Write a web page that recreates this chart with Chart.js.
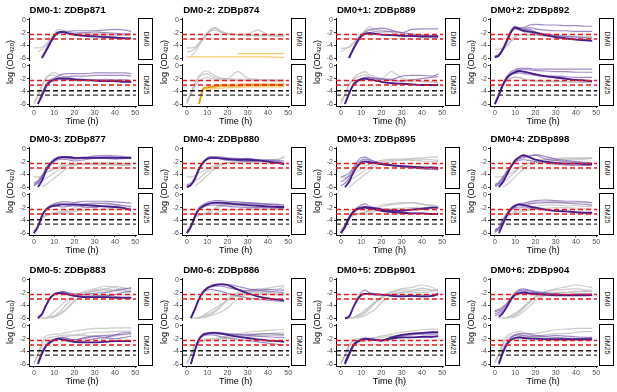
<!DOCTYPE html>
<html><head><meta charset="utf-8">
<script src="https://cdn.jsdelivr.net/npm/chart.js@4"></script>
<style>
body{margin:0;background:#fff;}
#root{position:relative;width:617px;height:392px;overflow:hidden;font-family:"Liberation Sans",Arial,sans-serif;background:#fff;}
.t{position:absolute;font-weight:bold;font-size:9.6px;color:#000;white-space:nowrap;line-height:1;}
.strip{position:absolute;border:1.6px solid #000;box-sizing:border-box;background:#fff;}
.strip span{position:absolute;left:50%;top:50%;transform:translate(-50%,-50%) rotate(90deg);font-size:7px;color:#1a1a1a;white-space:nowrap;line-height:1;}
.yl{position:absolute;font-size:9px;white-space:nowrap;line-height:1;transform:translate(-50%,-50%) rotate(-90deg);}
.yl sub{font-size:6px;vertical-align:-1px;}
.xl{position:absolute;font-size:9px;white-space:nowrap;line-height:1;transform:translate(-50%,-50%);}
canvas{position:absolute;}
</style></head><body><div id="root"></div>
<script>
// time points (h)
const T = [0,2,4,6,8,10,12,14,17,20,25,30,35,40,45,48];
const xTicks = [0,10,20,30,40,50];
const yTicks = [-6,-4,-2,0];
const redLevels = [-2.3,-3.0];
const blackLevels = [-3.9,-4.6];
const titles = ['DM0-1: ZDBp871','DM0-2: ZDBp874','DM0+1: ZDBp889','DM0+2: ZDBp892',
                'DM0-3: ZDBp877','DM0-4: ZDBp880','DM0+3: ZDBp895','DM0+4: ZDBp898',
                'DM0-5: ZDBp883','DM0-6: ZDBp886','DM0+5: ZDBp901','DM0+6: ZDBp904'];
const strips = ['DM0','DM25'];

// ---- ZDBp871 ----
const gray_871_DM0 = [[-4.4,-4.4,-4.3,-3.8,-3.0,-2.2,-1.5,-1.6,-2.0,-2.1,-2.1,-2.2,-2.2,-2.3,-2.3,-2.4],
 [null,-5.0,-4.6,-4.0,-3.2,-2.4,-1.8,-1.9,-2.1,-2.2,-2.3,-2.3,-2.4,-2.4,-2.4,-2.5]];
const light_871_DM0 = [[null,null,-6.0,-4.8,-3.6,-2.5,-2.0,-1.8,-1.8,-1.7,-1.7,-1.7,-1.6,-1.5,-1.6,-1.8],
 [null,null,-5.8,-4.6,-3.4,-2.4,-1.9,-1.9,-2.2,-2.4,-2.5,-2.6,-2.6,-2.7,-2.8,-2.9],
 [null,null,-5.9,-4.7,-3.5,-2.5,-2.0,-2.0,-2.1,-2.1,-2.0,-1.9,-2.0,-2.1,-2.2,-2.2]];
const dark_871_DM0 = [[null,null,-6.0,-4.9,-3.7,-2.6,-2.0,-1.9,-2.1,-2.3,-2.5,-2.6,-2.7,-2.8,-2.9,-2.9]];
const gray_871_DM25 = [[-6.0,-4.8,-3.2,-2.0,-1.3,-1.0,-1.3,-1.6,-1.8,-2.0,-2.1,-2.2,-2.3,-2.3,-2.4,-2.5],
 [-5.8,-4.5,-3.0,-1.8,-1.5,-1.4,-1.8,-2.0,-2.1,-2.2,-2.3,-2.3,-2.4,-2.4,-2.5,-2.5]];
const light_871_DM25 = [[null,-6.0,-4.5,-3.0,-2.2,-1.9,-1.6,-1.3,-1.2,-1.2,-1.2,-1.1,-1.1,-1.1,-1.1,-1.2],
 [null,-6.0,-4.6,-3.1,-2.4,-2.1,-1.9,-1.8,-1.7,-1.6,-1.6,-1.5,-1.5,-1.5,-1.5,-1.6],
 [null,-5.8,-4.3,-2.9,-2.3,-2.1,-2.0,-2.1,-2.2,-2.3,-2.3,-2.2,-2.1,-2.2,-2.2,-2.3]];
const dark_871_DM25 = [[null,-6.0,-4.7,-3.3,-2.5,-2.2,-2.0,-2.0,-2.0,-2.1,-2.2,-2.3,-2.4,-2.4,-2.5,-2.5]];

// ---- ZDBp874 (orange) ----
const gray_874_DM0 = [[-4.4,-4.4,-4.3,-3.6,-2.8,-2.0,-1.4,-1.2,-1.8,-2.1,-2.3,-2.4,-2.5,-2.5,-2.6,-2.6],
 [-5.0,-4.9,-4.5,-3.8,-3.0,-2.2,-1.6,-1.3,-1.9,-2.2,-2.3,-2.2,-1.6,-2.3,-2.4,-2.5],
 [null,-5.8,-5.0,-4.0,-3.1,-2.3,-1.7,-1.6,-2.0,-2.2,-2.3,-2.5,-2.5,-2.4,-2.5,-2.5]];
const light_874_DM0 = [[-5.8,-5.8,-5.8,-5.8,-5.8,-5.8,-5.8,-5.8,-5.8,-5.8,-5.8,-5.8,-5.8,-5.8,-5.9,-5.9],
 [null,null,null,null,null,null,null,null,null,null,-5.3,-5.3,-5.3,-5.3,-5.3,-5.3]];
const dark_874_DM0 = [];
const gray_874_DM25 = [[-6.0,-4.5,-2.8,-1.6,-1.0,-0.8,-1.2,-1.6,-1.9,-2.0,-2.1,-2.1,-2.2,-2.2,-2.3,-2.3],
 [-5.7,-4.2,-2.6,-1.8,-1.4,-1.2,-1.6,-1.9,-2.0,-2.0,-0.9,-1.9,-2.1,-2.2,-2.2,-2.2],
 [-5.5,-4.4,-3.2,-2.4,-2.0,-1.8,-2.0,-2.1,-2.2,-2.2,-2.3,-2.3,-2.3,-2.3,-2.4,-2.4]];
const light_874_DM25 = [[null,null,null,-6.0,-3.7,-3.5,-3.4,-3.3,-3.2,-3.2,-3.1,-3.1,-3.1,-3.0,-3.0,-3.0],
 [null,null,null,-5.8,-3.5,-3.3,-3.2,-3.0,-2.9,-2.9,-2.8,-2.8,-2.8,-2.8,-2.8,-2.8],
 [null,null,null,-6.0,-3.9,-3.7,-3.6,-3.5,-3.5,-3.4,-3.4,-3.3,-3.3,-3.3,-3.3,-3.3]];
const dark_874_DM25 = [[null,null,null,-6.0,-3.6,-3.4,-3.3,-3.2,-3.1,-3.1,-3.1,-3.0,-3.0,-3.0,-3.0,-3.0]];

// ---- ZDBp889 ----
const gray_889_DM0 = [[-5.0,-4.6,-4.2,-3.6,-3.0,-2.4,-1.6,-1.1,-1.5,-1.6,-2.0,-2.4,-2.5,-2.5,-2.6,-2.6],
 [-4.5,-4.4,-4.3,-3.8,-3.0,-2.3,-1.8,-1.5,-1.8,-1.6,-1.9,-2.3,-2.4,-2.4,-2.5,-2.5]];
const light_889_DM0 = [[null,null,-6.0,-4.6,-3.3,-2.4,-1.9,-1.6,-1.4,-1.3,-1.6,-2.0,-1.5,-1.4,-1.4,-1.4],
 [null,null,-5.8,-4.5,-3.3,-2.5,-2.1,-2.0,-1.9,-1.9,-1.8,-2.0,-2.2,-2.4,-2.5,-2.5],
 [null,null,-5.9,-4.6,-3.4,-2.6,-2.2,-2.1,-2.2,-2.3,-2.4,-2.5,-2.6,-2.7,-2.7,-2.8]];
const dark_889_DM0 = [[null,null,-6.0,-4.7,-3.5,-2.6,-2.2,-2.1,-2.2,-2.3,-2.4,-2.5,-2.5,-2.6,-2.6,-2.6]];
const gray_889_DM25 = [[-6.0,-4.6,-3.0,-2.0,-1.4,-1.1,-0.9,-1.4,-1.7,-2.0,-0.9,-1.9,-2.2,-2.4,-2.5,-2.5],
 [-5.6,-4.4,-3.0,-2.2,-1.8,-1.5,-1.4,-1.7,-2.0,-2.2,-2.3,-2.4,-2.4,-2.5,-2.5,-2.6]];
const light_889_DM25 = [[null,-6.0,-4.3,-3.0,-2.3,-2.0,-1.8,-1.8,-1.9,-2.0,-2.1,-1.6,-1.5,-1.5,-1.6,-1.3],
 [null,-5.8,-4.2,-2.9,-2.3,-2.0,-1.9,-1.9,-2.0,-2.1,-2.2,-2.4,-2.2,-2.0,-1.8,-1.7],
 [null,-5.9,-4.4,-3.1,-2.5,-2.2,-2.1,-2.1,-2.3,-2.5,-2.7,-2.8,-2.9,-3.0,-3.0,-3.0]];
const dark_889_DM25 = [[null,-6.0,-4.4,-3.1,-2.4,-2.1,-2.0,-2.1,-2.3,-2.5,-2.7,-2.8,-2.9,-3.0,-3.0,-3.0]];

// ---- ZDBp892 ----
const gray_892_DM0 = [[-5.6,-5.4,-4.8,-4.0,-3.2,-2.6,-2.4,-2.3,-2.4,-2.4,-2.5,-2.5,-2.6,-2.6,-2.7,-2.7],
 [-4.6,-4.6,-4.4,-4.0,-3.4,-2.8,-2.3,-2.2,-2.3,-2.4,-2.5,-2.5,-2.6,-2.6,-2.6,-2.7]];
const light_892_DM0 = [[-5.8,-5.6,-4.6,-3.2,-1.8,-1.1,-1.2,-1.2,-0.8,-0.7,-0.8,-0.8,-0.9,-0.9,-1.0,-1.0],
 [-5.8,-5.4,-4.4,-3.0,-1.6,-1.0,-1.3,-1.4,-1.2,-1.4,-1.6,-1.7,-1.7,-1.8,-1.8,-1.8],
 [-5.7,-5.5,-4.5,-3.1,-1.8,-1.3,-1.6,-1.5,-1.5,-1.9,-2.2,-2.4,-2.6,-2.7,-2.8,-2.9],
 [-5.9,-5.6,-4.7,-3.4,-2.0,-1.4,-1.5,-1.8,-2.0,-2.2,-2.4,-2.6,-2.8,-3.0,-3.1,-3.2]];
const dark_892_DM0 = [[-5.9,-5.6,-4.6,-3.3,-1.9,-1.2,-1.4,-1.7,-1.8,-2.0,-2.4,-2.7,-2.9,-3.1,-3.2,-3.3]];
const gray_892_DM25 = [[-6.0,-4.4,-3.0,-2.4,-2.0,-1.8,-1.8,-2.0,-2.2,-2.3,-2.4,-2.4,-2.5,-2.5,-2.6,-2.6],
 [-5.8,-4.2,-2.8,-2.2,-1.9,-1.7,-1.9,-2.1,-2.3,-2.4,-2.5,-2.5,-2.5,-2.6,-2.6,-2.7]];
const light_892_DM25 = [[-6.0,-4.6,-2.8,-1.6,-0.9,-0.6,-0.4,-0.4,-0.4,-0.5,-0.5,-0.5,-0.5,-0.5,-0.5,-0.5],
 [-6.0,-4.5,-2.9,-1.8,-1.2,-0.8,-0.6,-0.6,-0.6,-0.7,-0.8,-0.9,-0.9,-1.0,-1.0,-1.0],
 [-5.9,-4.4,-2.8,-1.7,-1.2,-0.9,-0.8,-0.9,-1.1,-1.4,-1.7,-1.9,-2.1,-2.2,-2.3,-2.4],
 [-5.9,-4.5,-2.9,-1.9,-1.4,-1.2,-1.1,-1.2,-1.3,-1.5,-1.6,-1.6,-1.7,-1.8,-1.8,-1.8]];
const dark_892_DM25 = [[-6.0,-4.6,-3.0,-1.9,-1.3,-1.0,-0.8,-0.9,-1.1,-1.3,-1.6,-1.8,-2.0,-2.2,-2.3,-2.4]];

// ---- ZDBp877 ----
const gray_877_DM0 = [[-4.4,-4.4,-4.2,-3.6,-3.3,-3.0,-2.8,-2.6,-2.5,-2.4,-2.4,-2.5,-2.5,-2.5,-2.6,-2.6],
 [null,-5.4,-5.0,-4.6,-4.2,-3.8,-3.4,-3.0,-2.6,-2.4,-2.3,-2.3,-2.4,-2.4,-2.4,-2.5],
 [null,null,-6.0,-5.6,-5.1,-4.6,-4.1,-3.6,-3.0,-2.6,-2.3,-2.2,-2.2,-2.2,-2.3,-2.3],
 [null,-4.6,-4.2,-3.8,-3.5,-3.2,-3.0,-2.8,-2.6,-2.5,-2.4,-2.4,-2.4,-2.5,-2.5,-2.5]];
const light_877_DM0 = [[-5.4,-5.0,-4.2,-3.0,-2.2,-1.6,-1.3,-1.2,-1.2,-1.4,-1.3,-1.1,-1.0,-1.1,-1.2,-1.3],
 [-5.6,-5.2,-4.4,-3.2,-2.4,-1.8,-1.5,-1.4,-1.5,-1.6,-1.5,-1.3,-1.2,-1.3,-1.4,-1.5],
 [-5.8,-5.4,-4.6,-3.4,-2.6,-2.0,-1.7,-1.6,-1.7,-1.9,-1.7,-1.5,-1.5,-1.6,-1.5,-1.4]];
const dark_877_DM0 = [[null,-6.0,-5.0,-3.4,-2.4,-1.8,-1.4,-1.3,-1.3,-1.4,-1.4,-1.4,-1.4,-1.4,-1.4,-1.4]];
const gray_877_DM25 = [[-6.0,-5.0,-3.8,-3.2,-3.0,-2.9,-2.8,-2.7,-2.6,-2.3,-2.0,-1.8,-1.9,-2.0,-2.1,-2.1],
 [-5.8,-5.0,-3.8,-3.3,-3.1,-3.0,-3.0,-2.9,-2.8,-2.6,-2.4,-2.3,-2.2,-2.2,-2.3,-2.3],
 [-5.6,-4.8,-3.6,-3.1,-2.9,-2.8,-2.7,-2.6,-2.4,-2.0,-1.5,-1.2,-1.4,-1.6,-1.8,-1.9]];
const light_877_DM25 = [[-6.0,-5.0,-3.2,-2.2,-1.7,-1.4,-1.2,-1.1,-1.1,-1.2,-1.0,-1.0,-1.0,-1.1,-1.2,-1.3],
 [-6.0,-5.1,-3.3,-2.3,-1.8,-1.5,-1.4,-1.5,-1.6,-1.6,-1.4,-1.4,-1.3,-1.5,-1.7,-1.8],
 [-5.9,-5.0,-3.2,-2.3,-1.9,-1.8,-1.8,-1.9,-1.8,-1.7,-1.9,-2.0,-1.7,-1.8,-2.1,-2.2]];
const dark_877_DM25 = [[-6.0,-5.0,-3.3,-2.3,-1.9,-1.7,-1.6,-1.5,-1.5,-1.5,-1.6,-1.7,-1.8,-1.9,-2.1,-2.4]];

// ---- ZDBp880 ----
const gray_880_DM0 = [[-4.4,-4.4,-4.2,-3.8,-3.5,-3.2,-2.9,-2.6,-2.4,-2.2,-2.0,-1.8,-1.8,-1.8,-1.6,-1.4],
 [null,-5.4,-5.0,-4.6,-4.1,-3.6,-3.2,-2.8,-2.4,-2.2,-2.1,-2.1,-2.2,-2.3,-2.2,-2.0],
 [null,null,-5.8,-5.4,-4.8,-4.2,-3.6,-3.1,-2.6,-2.2,-2.0,-1.9,-2.0,-2.0,-1.8,-1.1]];
const light_880_DM0 = [[-5.8,-5.6,-4.6,-3.0,-2.0,-1.4,-1.2,-1.2,-1.3,-1.4,-1.5,-1.6,-1.7,-1.7,-1.8,-1.9],
 [-5.6,-5.4,-4.4,-3.0,-2.1,-1.6,-1.4,-1.4,-1.6,-1.8,-1.7,-1.5,-1.7,-2.0,-2.2,-2.4],
 [-5.9,-5.6,-4.6,-3.2,-2.2,-1.7,-1.5,-1.5,-1.5,-1.6,-1.8,-2.0,-1.9,-1.8,-2.0,-2.2]];
const dark_880_DM0 = [[-6.0,-5.7,-4.7,-3.2,-2.2,-1.6,-1.4,-1.4,-1.5,-1.6,-1.7,-1.7,-1.8,-2.0,-2.2,-2.4]];
const gray_880_DM25 = [[-6.0,-4.8,-3.6,-3.2,-3.0,-2.8,-2.5,-2.0,-1.5,-1.2,-1.2,-1.3,-1.4,-1.5,-1.5,-1.6],
 [-5.8,-4.8,-3.6,-3.2,-3.1,-3.0,-2.9,-2.8,-2.6,-2.4,-2.3,-2.2,-2.2,-2.2,-2.2,-2.2],
 [-5.6,-4.6,-3.5,-3.1,-2.9,-2.8,-2.6,-2.2,-1.8,-1.6,-1.7,-1.8,-1.9,-2.0,-2.0,-2.0]];
const light_880_DM25 = [[-6.0,-5.0,-3.2,-2.0,-1.5,-1.2,-1.0,-0.9,-0.9,-1.0,-1.1,-1.2,-1.3,-1.4,-1.5,-1.6],
 [-5.9,-5.0,-3.3,-2.2,-1.7,-1.4,-1.3,-1.3,-1.4,-1.5,-1.4,-1.3,-1.4,-1.5,-1.7,-1.9],
 [-6.0,-5.1,-3.4,-2.3,-1.9,-1.7,-1.6,-1.6,-1.7,-1.8,-1.9,-2.0,-2.0,-2.0,-2.1,-2.2]];
const dark_880_DM25 = [[-6.0,-5.0,-3.4,-2.3,-1.8,-1.5,-1.3,-1.2,-1.2,-1.3,-1.5,-1.6,-1.7,-1.8,-1.9,-1.9]];

// ---- ZDBp895 ----
const gray_895_DM0 = [[-4.6,-4.5,-4.3,-4.0,-3.6,-3.2,-2.8,-2.4,-2.0,-1.8,-1.6,-1.6,-1.5,-1.4,-1.3,-1.3],
 [null,-5.4,-5.0,-4.6,-4.2,-3.8,-3.3,-2.9,-2.4,-2.0,-1.8,-1.7,-1.8,-1.9,-2.0,-2.0],
 [null,null,-6.0,-5.5,-5.0,-4.5,-4.0,-3.5,-2.8,-2.3,-2.0,-1.8,-1.6,-1.6,-1.7,-1.8]];
const light_895_DM0 = [[-4.4,-4.2,-3.8,-3.0,-2.0,-1.4,-1.3,-1.6,-2.0,-2.3,-2.6,-2.7,-2.8,-2.9,-3.0,-3.1],
 [-5.2,-4.8,-4.2,-3.3,-2.4,-1.8,-1.6,-1.8,-2.0,-2.2,-2.5,-2.7,-2.9,-3.1,-3.2,-3.3],
 [-5.8,-5.4,-4.6,-3.6,-2.6,-2.0,-1.9,-2.0,-2.2,-2.4,-2.6,-2.8,-3.0,-3.1,-3.2,-3.2]];
const dark_895_DM0 = [[null,-6.0,-5.2,-3.8,-2.8,-2.2,-2.0,-2.1,-2.2,-2.4,-2.6,-2.7,-2.8,-2.9,-2.9,-3.0]];
const gray_895_DM25 = [[-6.0,-4.8,-3.6,-3.2,-3.0,-2.8,-2.6,-2.4,-2.2,-1.9,-1.5,-1.4,-1.2,-1.4,-1.8,-1.9],
 [-5.8,-4.8,-3.6,-3.2,-3.0,-2.9,-2.7,-2.5,-2.1,-1.6,-1.4,-1.2,-1.2,-1.5,-1.6,-1.7],
 [-5.6,-4.6,-3.6,-3.3,-3.1,-3.0,-2.9,-2.8,-2.6,-2.4,-2.2,-2.1,-2.0,-2.0,-1.9,-2.0]];
const light_895_DM25 = [[-6.0,-5.0,-3.6,-2.6,-2.0,-1.6,-1.4,-1.8,-2.0,-2.2,-2.3,-2.4,-2.3,-2.1,-2.0,-2.0],
 [-5.9,-5.0,-3.6,-2.7,-2.2,-2.0,-1.9,-2.0,-2.2,-2.4,-2.6,-2.8,-2.9,-2.9,-3.0,-3.0]];
const dark_895_DM25 = [[-6.0,-5.0,-3.6,-2.7,-2.2,-2.0,-1.9,-2.0,-2.1,-2.3,-2.5,-2.5,-2.3,-2.2,-2.0,-2.0],
 [-6.0,-5.1,-3.7,-2.8,-2.3,-2.1,-2.0,-2.1,-2.3,-2.5,-2.7,-2.8,-2.9,-2.9,-3.0,-3.0]];

// ---- ZDBp898 ----
const gray_898_DM0 = [[-4.4,-4.4,-4.3,-4.1,-3.8,-3.4,-3.0,-2.6,-2.2,-2.0,-1.7,-1.6,-1.6,-1.5,-1.4,-1.4],
 [null,-5.6,-5.2,-4.8,-4.2,-3.6,-3.0,-2.6,-2.2,-1.9,-1.6,-1.5,-1.4,-1.4,-1.5,-1.5],
 [null,null,-6.0,-5.6,-5.0,-4.4,-3.8,-3.2,-2.6,-2.2,-1.9,-1.8,-1.7,-1.7,-1.6,-1.5]];
const light_898_DM0 = [[-5.8,-5.4,-4.6,-3.6,-2.6,-1.8,-1.4,-1.2,-1.0,-1.0,-1.6,-1.8,-2.0,-2.1,-2.2,-2.3],
 [-5.6,-5.2,-4.4,-3.4,-2.6,-2.0,-1.6,-1.4,-1.2,-0.9,-1.2,-1.6,-1.8,-2.0,-2.1,-2.2],
 [-5.9,-5.6,-4.8,-3.8,-2.8,-2.1,-1.8,-1.7,-1.8,-2.0,-2.2,-2.4,-2.5,-2.6,-2.6,-2.6]];
const dark_898_DM0 = [[null,-6.0,-5.2,-4.0,-2.8,-1.8,-1.3,-1.0,-1.3,-1.7,-2.0,-2.2,-2.3,-2.3,-2.4,-2.4]];
const gray_898_DM25 = [[-5.6,-5.0,-3.8,-3.2,-2.9,-2.6,-2.2,-1.8,-1.4,-1.1,-1.0,-1.1,-1.2,-1.2,-1.2,-1.2],
 [-5.8,-5.0,-3.8,-3.3,-3.0,-2.8,-2.6,-2.4,-2.1,-1.8,-1.6,-1.6,-1.7,-1.7,-1.8,-1.8],
 [-6.0,-5.2,-4.0,-3.4,-3.2,-3.0,-2.8,-2.6,-2.4,-2.2,-2.1,-2.0,-2.0,-2.1,-2.1,-2.1]];
const light_898_DM25 = [[-5.4,-5.2,-4.0,-2.8,-2.0,-1.6,-1.4,-1.3,-1.1,-0.9,-0.8,-0.9,-1.0,-1.0,-1.1,-1.2],
 [-5.6,-5.3,-4.2,-3.0,-2.2,-1.8,-1.6,-1.5,-1.4,-1.3,-1.2,-1.2,-1.3,-1.4,-1.5,-1.6],
 [-5.8,-5.4,-4.3,-3.1,-2.4,-2.0,-1.9,-1.9,-2.0,-2.2,-2.4,-2.5,-2.6,-2.8,-2.9,-3.0]];
const dark_898_DM25 = [[null,-6.0,-4.6,-3.2,-2.2,-1.7,-1.5,-1.6,-1.8,-2.0,-2.3,-2.5,-2.6,-2.7,-2.8,-2.8]];

// ---- ZDBp883 ----
const gray_883_DM0 = [[null,-6.0,-6.0,-6.0,-5.8,-5.6,-5.2,-4.6,-3.6,-2.6,-1.8,-1.4,-1.0,-1.2,-1.6,-1.8],
 [null,null,-6.0,-6.0,-5.9,-5.8,-5.6,-5.2,-4.4,-3.4,-2.2,-1.6,-1.4,-1.6,-1.8,-1.9],
 [null,null,null,-6.0,-5.6,-5.0,-4.4,-3.8,-3.0,-2.4,-2.0,-1.8,-1.7,-1.6,-1.4,-1.4],
 [null,null,null,null,-6.0,-5.8,-5.4,-5.0,-4.2,-3.2,-2.2,-1.7,-1.5,-1.0,-1.3,-1.5]];
const light_883_DM0 = [[null,-6.0,-5.4,-4.0,-2.8,-2.2,-2.0,-1.8,-2.0,-2.2,-2.3,-2.1,-2.0,-1.7,-1.4,-1.2],
 [null,-6.0,-5.4,-4.1,-2.9,-2.3,-2.1,-2.0,-2.2,-2.5,-2.6,-2.5,-2.4,-2.6,-2.8,-2.8],
 [null,-5.8,-5.2,-3.9,-2.8,-2.2,-2.0,-1.9,-2.1,-2.4,-2.6,-2.7,-2.6,-2.3,-1.9,-1.8]];
const dark_883_DM0 = [[null,-6.0,-5.4,-4.0,-2.9,-2.3,-2.1,-2.1,-2.3,-2.5,-2.7,-2.7,-2.7,-2.8,-2.8,-2.8]];
const gray_883_DM25 = [[-6.0,-4.4,-2.6,-1.6,-1.4,-1.3,-1.3,-1.2,-1.0,-0.8,-0.6,-0.4,-0.4,-0.3,-0.3,-0.3],
 [-5.8,-4.4,-2.8,-2.0,-1.8,-1.7,-1.6,-1.5,-1.4,-1.4,-1.2,-1.0,-1.0,-0.9,-0.8,-0.8],
 [-5.8,-4.6,-3.2,-2.6,-2.4,-2.2,-2.0,-1.8,-1.6,-1.5,-1.5,-1.7,-1.8,-1.6,-1.3,-1.2]];
const light_883_DM25 = [[null,-5.6,-4.0,-3.0,-2.4,-2.1,-1.9,-1.8,-2.0,-2.2,-2.0,-1.6,-1.5,-1.4,-1.3,-1.2],
 [null,-5.8,-4.2,-3.1,-2.5,-2.2,-2.0,-2.0,-2.1,-2.2,-1.8,-1.6,-1.8,-1.4,-1.0,-1.0],
 [null,-5.9,-4.3,-3.2,-2.6,-2.3,-2.1,-2.2,-2.4,-2.5,-2.4,-2.0,-1.9,-2.0,-1.8,-1.6]];
const dark_883_DM25 = [[null,-6.0,-4.4,-3.2,-2.6,-2.2,-2.0,-2.1,-2.3,-2.5,-2.6,-2.6,-2.5,-2.4,-2.4,-2.4]];

// ---- ZDBp886 ----
const gray_886_DM0 = [[null,-6.0,-6.0,-6.0,-5.8,-5.6,-5.4,-5.0,-4.2,-3.0,-2.0,-1.6,-1.4,-1.3,-1.0,-0.9],
 [null,null,-6.0,-5.9,-5.7,-5.5,-5.2,-4.8,-4.0,-3.2,-2.3,-1.8,-1.8,-1.6,-1.4,-1.2],
 [null,null,null,-6.0,-5.6,-5.2,-4.8,-4.4,-3.8,-3.2,-2.5,-2.0,-1.9,-2.0,-2.1,-2.2],
 [null,null,null,null,-6.0,-5.8,-5.6,-5.4,-5.0,-4.4,-3.0,-2.2,-2.0,-2.2,-2.4,-2.5]];
const light_886_DM0 = [[null,-6.0,-4.6,-3.0,-1.8,-1.2,-0.9,-0.7,-0.6,-0.7,-1.0,-1.4,-1.6,-1.8,-1.9,-2.0],
 [null,-5.8,-4.4,-2.9,-1.9,-1.4,-1.1,-1.0,-1.0,-1.2,-1.5,-1.7,-1.6,-1.5,-1.6,-1.6],
 [null,-5.9,-4.5,-3.0,-2.0,-1.6,-1.5,-1.6,-1.8,-2.1,-2.5,-2.8,-3.0,-3.2,-3.3,-3.4]];
const dark_886_DM0 = [[null,-6.0,-4.6,-3.0,-1.9,-1.3,-1.0,-0.8,-0.7,-0.8,-1.5,-2.1,-2.6,-2.9,-3.1,-3.2]];
const gray_886_DM25 = [[-6.0,-4.6,-3.0,-2.4,-2.2,-2.1,-2.0,-1.9,-1.8,-1.6,-1.3,-1.0,-0.8,-0.7,-0.6,-0.6],
 [-5.8,-4.5,-3.0,-2.5,-2.3,-2.2,-2.1,-2.1,-2.0,-1.8,-1.5,-1.3,-1.3,-1.2,-1.1,-1.1],
 [-5.8,-4.6,-3.2,-2.6,-2.4,-2.3,-2.2,-2.1,-2.0,-1.9,-1.7,-1.6,-1.6,-1.5,-1.5,-1.4]];
const light_886_DM25 = [[null,-6.0,-3.8,-2.0,-1.3,-1.1,-1.0,-1.0,-1.1,-1.2,-1.4,-1.5,-1.6,-1.7,-1.8,-1.8],
 [null,-5.8,-3.7,-2.1,-1.4,-1.2,-1.2,-1.2,-1.3,-1.3,-1.3,-1.4,-1.3,-1.2,-1.3,-1.4],
 [null,-5.9,-3.8,-2.2,-1.6,-1.4,-1.4,-1.5,-1.7,-1.9,-2.1,-2.3,-2.5,-2.7,-2.9,-3.0]];
const dark_886_DM25 = [[null,-6.0,-3.9,-2.1,-1.4,-1.2,-1.1,-1.1,-1.2,-1.4,-1.7,-1.9,-2.1,-2.3,-2.4,-2.5]];

// ---- ZDBp901 ----
const gray_901_DM0 = [[null,-6.0,-6.0,-6.0,-5.8,-5.6,-5.2,-4.6,-3.6,-2.6,-1.8,-1.4,-1.2,-0.8,-1.2,-1.6],
 [null,null,-6.0,-5.9,-5.7,-5.4,-5.0,-4.4,-3.6,-2.8,-2.0,-1.6,-1.6,-1.3,-1.6,-1.8],
 [null,null,null,-6.0,-5.6,-5.2,-4.7,-4.2,-3.4,-2.8,-2.2,-1.9,-1.8,-1.6,-1.6,-1.7],
 [null,null,null,null,-6.0,-5.8,-5.6,-5.2,-4.6,-3.6,-2.4,-2.0,-1.9,-2.0,-1.8,-1.4]];
const light_901_DM0 = [[null,-6.0,-5.6,-4.4,-3.0,-2.0,-1.6,-2.0,-2.2,-2.3,-2.4,-2.5,-2.5,-2.5,-2.6,-2.4]];
const dark_901_DM0 = [[null,-6.0,-5.8,-4.4,-3.2,-2.4,-2.2,-2.2,-2.3,-2.3,-2.5,-2.6,-2.5,-2.6,-2.5,-2.2]];
const gray_901_DM25 = [[-6.0,-4.6,-3.0,-2.2,-2.0,-2.0,-1.9,-1.9,-1.8,-1.6,-1.3,-1.0,-0.8,-0.6,-0.5,-0.5],
 [-5.8,-4.6,-3.2,-2.5,-2.3,-2.2,-2.1,-2.0,-1.9,-1.8,-1.6,-1.4,-1.3,-1.2,-1.1,-1.0],
 [-5.8,-4.8,-3.4,-2.8,-2.6,-2.5,-2.4,-2.3,-2.2,-2.1,-2.0,-1.9,-1.8,-1.8,-1.7,-1.7]];
const light_901_DM25 = [[null,-5.6,-4.4,-3.2,-2.6,-2.3,-2.2,-2.1,-2.1,-2.3,-1.9,-1.6,-1.4,-1.3,-1.3,-1.3]];
const dark_901_DM25 = [[null,-6.0,-4.6,-3.2,-2.5,-2.2,-2.0,-2.1,-2.2,-2.3,-1.8,-1.4,-1.2,-1.1,-1.0,-1.0],
 [null,-5.8,-4.4,-3.1,-2.5,-2.2,-2.0,-2.1,-2.2,-2.3,-2.0,-1.8,-1.8,-1.7,-1.7,-1.6]];

// ---- ZDBp904 ----
const gray_904_DM0 = [[null,-6.0,-6.0,-6.0,-5.8,-5.6,-5.2,-4.6,-3.6,-2.6,-1.8,-1.4,-1.1,-0.8,-1.0,-1.2],
 [null,null,-6.0,-5.9,-5.7,-5.4,-5.0,-4.4,-3.5,-2.6,-1.9,-1.6,-1.5,-1.4,-1.6,-1.8],
 [null,null,null,-6.0,-5.6,-5.2,-4.8,-4.2,-3.4,-2.8,-2.3,-2.0,-1.9,-1.8,-1.8,-1.9],
 [null,null,null,null,-6.0,-5.8,-5.5,-5.0,-4.2,-3.2,-2.4,-2.0,-2.0,-1.9,-1.7,-1.6]];
const light_904_DM0 = [[-4.8,-4.6,-4.2,-3.6,-2.8,-2.0,-1.5,-1.4,-1.6,-1.8,-2.0,-2.2,-2.3,-2.3,-2.3,-2.3],
 [-5.0,-4.8,-4.4,-3.8,-3.0,-2.2,-1.7,-1.6,-1.7,-1.9,-2.1,-2.3,-2.4,-2.4,-2.4,-2.4],
 [-5.3,-5.1,-4.7,-4.0,-3.1,-2.3,-1.9,-1.8,-1.9,-2.0,-2.2,-2.2,-2.3,-2.2,-2.2,-2.2],
 [-5.6,-5.4,-5.0,-4.2,-3.3,-2.5,-2.2,-2.1,-2.2,-2.3,-2.4,-2.5,-2.5,-2.5,-2.5,-2.4]];
const dark_904_DM0 = [[null,-5.8,-5.2,-4.2,-3.0,-2.3,-2.1,-2.0,-2.1,-2.2,-2.3,-2.4,-2.4,-2.4,-2.4,-2.4]];
const gray_904_DM25 = [[-5.8,-4.4,-2.6,-1.6,-1.2,-1.0,-0.9,-1.0,-1.2,-1.2,-0.9,-0.6,-0.5,-0.4,-0.4,-0.4],
 [-5.6,-4.4,-2.8,-2.0,-1.6,-1.4,-1.4,-1.6,-1.7,-1.6,-1.4,-1.2,-1.2,-1.0,-0.9,-0.9],
 [-5.7,-4.6,-3.2,-2.6,-2.3,-2.1,-2.0,-1.9,-1.8,-1.8,-1.9,-2.0,-2.0,-1.9,-1.9,-1.8]];
const light_904_DM25 = [[null,-5.8,-4.0,-2.6,-1.8,-1.4,-1.2,-1.2,-1.3,-1.5,-1.6,-1.5,-1.6,-1.7,-1.8,-1.8],
 [null,-5.6,-3.8,-2.6,-1.9,-1.5,-1.4,-1.5,-1.6,-1.6,-1.7,-1.8,-1.9,-2.0,-2.0,-2.0],
 [null,-5.8,-4.1,-2.8,-2.1,-1.8,-1.7,-1.8,-1.9,-2.0,-2.1,-2.1,-2.2,-2.2,-2.2,-2.2]];
const dark_904_DM25 = [[null,-6.0,-4.2,-2.9,-2.2,-1.9,-1.8,-1.9,-2.0,-2.0,-2.1,-2.1,-2.1,-2.1,-2.1,-2.1]];

// panel lookup (grid order)
const PANELS = [
 {g0:gray_871_DM0,l0:light_871_DM0,d0:dark_871_DM0,g1:gray_871_DM25,l1:light_871_DM25,d1:dark_871_DM25},
 {g0:gray_874_DM0,l0:light_874_DM0,d0:dark_874_DM0,g1:gray_874_DM25,l1:light_874_DM25,d1:dark_874_DM25,orange:true},
 {g0:gray_889_DM0,l0:light_889_DM0,d0:dark_889_DM0,g1:gray_889_DM25,l1:light_889_DM25,d1:dark_889_DM25},
 {g0:gray_892_DM0,l0:light_892_DM0,d0:dark_892_DM0,g1:gray_892_DM25,l1:light_892_DM25,d1:dark_892_DM25},
 {g0:gray_877_DM0,l0:light_877_DM0,d0:dark_877_DM0,g1:gray_877_DM25,l1:light_877_DM25,d1:dark_877_DM25},
 {g0:gray_880_DM0,l0:light_880_DM0,d0:dark_880_DM0,g1:gray_880_DM25,l1:light_880_DM25,d1:dark_880_DM25},
 {g0:gray_895_DM0,l0:light_895_DM0,d0:dark_895_DM0,g1:gray_895_DM25,l1:light_895_DM25,d1:dark_895_DM25},
 {g0:gray_898_DM0,l0:light_898_DM0,d0:dark_898_DM0,g1:gray_898_DM25,l1:light_898_DM25,d1:dark_898_DM25},
 {g0:gray_883_DM0,l0:light_883_DM0,d0:dark_883_DM0,g1:gray_883_DM25,l1:light_883_DM25,d1:dark_883_DM25},
 {g0:gray_886_DM0,l0:light_886_DM0,d0:dark_886_DM0,g1:gray_886_DM25,l1:light_886_DM25,d1:dark_886_DM25},
 {g0:gray_901_DM0,l0:light_901_DM0,d0:dark_901_DM0,g1:gray_901_DM25,l1:light_901_DM25,d1:dark_901_DM25},
 {g0:gray_904_DM0,l0:light_904_DM0,d0:dark_904_DM0,g1:gray_904_DM25,l1:light_904_DM25,d1:dark_904_DM25}
];

// ---- layout ----
const PX0 = 28.5, COLSTEP = 153.7, PW = 107;
const ROWTOP = [18, 147, 278];
const PH = 41.5, GAP = 4.5;
const YW = 20, PADT = 5, PADR = 6, XH = 13;
const FONT = '"Liberation Sans", Arial, sans-serif';
const root = document.getElementById('root');

function lineSets(arrs, color, width, order) {
  return arrs.map(a => ({
    data: a.map((v, i) => ({x: T[i], y: v})),
    borderColor: color, borderWidth: width, pointRadius: 0,
    tension: 0.4, cubicInterpolationMode: 'monotone', fill: false, order
  }));
}
function hline(y, color, width) {
  return {data: [{x: -2.4, y}, {x: 50.4, y}], borderColor: color, borderWidth: width,
    borderDash: [5, 3], pointRadius: 0, fill: false, order: 0};
}
function div(cls, html, css) {
  const d = document.createElement('div');
  d.className = cls; d.innerHTML = html;
  Object.assign(d.style, css);
  root.appendChild(d);
  return d;
}

function makeChart(left, top, lower, datasets) {
  const cv = document.createElement('canvas');
  const L = Math.round(left) - YW, Tp = Math.round(top) - PADT;
  const w = YW + Math.round(PW) + PADR;
  const h = lower ? PADT + Math.round(PH) + XH : PADT + Math.round(PH) + PADT;
  cv.width = w; cv.height = h;
  cv.style.left = L + 'px'; cv.style.top = Tp + 'px';
  cv.style.width = w + 'px'; cv.style.height = h + 'px';
  root.appendChild(cv);
  const tickStyle = {font: {size: 7, family: FONT}, color: '#4d4d4d', padding: 1, autoSkip: false, maxRotation: 0};
  const gridStyle = {display: true, drawOnChartArea: false, drawTicks: true, tickLength: 2, tickColor: '#333', color: '#333'};
  new Chart(cv, {
    type: 'line',
    data: {datasets},
    options: {
      responsive: false, animation: false, devicePixelRatio: 1,
      layout: {padding: {left: 0, right: PADR, top: PADT, bottom: lower ? 0 : PADT}},
      plugins: {legend: {display: false}, tooltip: {enabled: false}},
      scales: {
        x: {type: 'linear', min: -2.4, max: 50.4, display: lower,
            afterBuildTicks: s => { s.ticks = xTicks.map(v => ({value: v})); },
            afterFit: s => { s.height = lower ? XH : 0; s.paddingLeft = 0; s.paddingRight = 0; },
            ticks: tickStyle, grid: gridStyle, border: {display: true, color: '#000', width: 1}},
        y: {type: 'linear', min: -6.3, max: 0.3,
            afterBuildTicks: s => { s.ticks = yTicks.map(v => ({value: v})); },
            afterFit: s => { s.width = YW; s.paddingTop = 0; s.paddingBottom = 0; },
            ticks: tickStyle, grid: gridStyle, border: {display: true, color: '#000', width: 1}}
      }
    }
  });
}

PANELS.forEach((p, idx) => {
  const c = idx % 4, r = Math.floor(idx / 4);
  const pl = PX0 + COLSTEP * c;
  const top0 = ROWTOP[r], top1 = top0 + PH + GAP;
  const lightC = p.orange ? 'rgba(240,185,70,0.75)' : 'rgba(125,95,178,0.72)';
  const darkC = p.orange ? 'rgb(230,160,20)' : 'rgb(72,28,138)';
  const grayC = 'rgba(190,190,190,0.8)';
  [0, 1].forEach(s => {
    const ds = [];
    ds.push(...redLevels.map(v => hline(v, '#e41a1c', 1.5)));
    if (s === 1) ds.push(hline(blackLevels[0], '#111', 1.3), hline(blackLevels[1], '#333', 1.3));
    ds.push(...lineSets(p['d' + s], darkC, 1.8, 1));
    ds.push(...lineSets(p['l' + s], lightC, 1.2, 2));
    ds.push(...lineSets(p['g' + s], grayC, 1.2, 3));
    makeChart(pl, s === 0 ? top0 : top1, s === 1, ds);
    div('strip', '<span>' + strips[s] + '</span>',
      {left: Math.round(pl + PW + 2) + 'px', top: Math.round(s === 0 ? top0 : top1) + 'px',
       width: '15px', height: Math.round(PH) + 'px'});
  });
  div('t', titles[idx], {left: (pl + 1) + 'px', top: (top0 - 13) + 'px'});
  div('yl', 'log (OD<sub>420</sub>)', {left: (pl - 18.5) + 'px', top: (top0 + PH + GAP / 2) + 'px'});
  div('xl', 'Time (h)', {left: (pl + PW / 2) + 'px', top: (top1 + PH + 15.5) + 'px'});
});
</script></body></html>
